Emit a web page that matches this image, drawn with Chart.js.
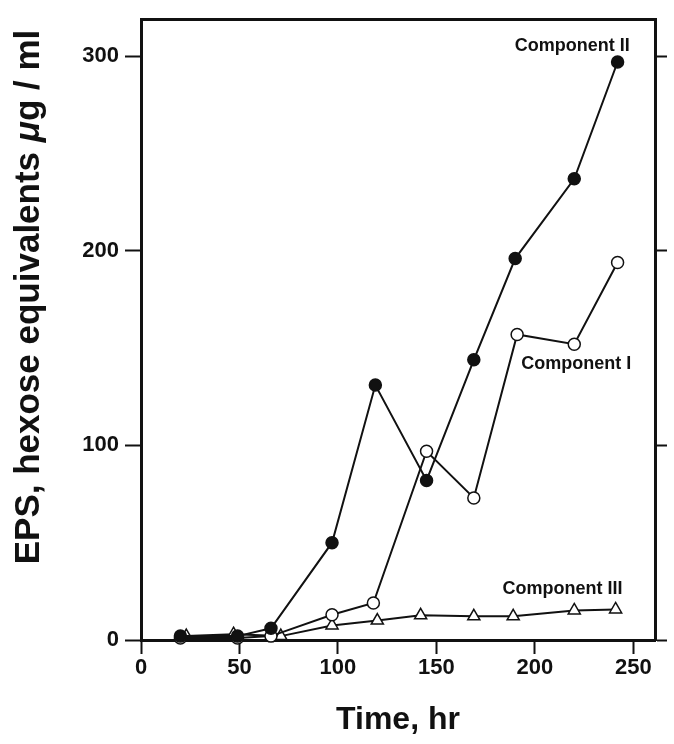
<!DOCTYPE html>
<html>
<head>
<meta charset="utf-8">
<script src="https://cdn.jsdelivr.net/npm/chart.js@4.4.1/dist/chart.umd.min.js"></script>
<style>
  html, body { margin: 0; padding: 0; background: #fff; }
</style>
</head>
<body>
<canvas id="chart" width="674" height="744"></canvas>
<script>
// time (hr) and EPS (hexose equivalents, ug/ml)
const compIIHours = [20, 49, 66, 97, 119, 145, 169, 190, 220, 242];
const compIIValues = [2, 2, 6, 50, 131, 82, 144, 196, 237, 297];

const compIHours = [20, 49, 66, 97, 118, 145, 169, 191, 220, 242];
const compIValues = [1, 1, 2, 13, 19, 97, 73, 157, 152, 194];

const compIIIHours = [23, 47, 71, 97, 120, 142, 169, 189, 220, 241];
const compIIIValues = [2, 3, 2, 7.5, 10, 12.7, 12.2, 12.2, 15.2, 15.7];

const xTicks = [0, 50, 100, 150, 200, 250];
const yTicks = [0, 100, 200, 300];

// series names, placed next to the curves (data units)
const seriesLabels = ["Component II", "Component I", "Component III"];
const labelX = [219, 221, 214];
const labelY = [305, 142, 26];

const FONT = "'Liberation Sans', Arial, Helvetica, sans-serif";

const toPoints = (xs, ys) => xs.map((x, i) => ({ x: x, y: ys[i] }));

const curveLabels = {
  id: "curveLabels",
  afterDatasetsDraw(chart) {
    const ctx = chart.ctx;
    const xs = chart.scales.x;
    const ys = chart.scales.y;
    ctx.save();
    ctx.fillStyle = "#111";
    ctx.font = "bold 18px " + FONT;
    ctx.textAlign = "center";
    ctx.textBaseline = "middle";
    seriesLabels.forEach((txt, i) => {
      ctx.fillText(txt, xs.getPixelForValue(labelX[i]), ys.getPixelForValue(labelY[i]));
    });
    ctx.restore();
  }
};

// y title drawn by hand so the mu can be italic like the original
const yTitle = {
  id: "yTitle",
  afterDraw(chart) {
    const ctx = chart.ctx;
    const parts = [
      ["EPS, hexose equivalents ", "bold 35px " + FONT],
      ["\u03bc", "italic bold 35px " + FONT],
      ["g / ml", "bold 35px " + FONT]
    ];
    let total = 0;
    parts.forEach(p => { ctx.font = p[1]; total += ctx.measureText(p[0]).width; });
    ctx.save();
    ctx.translate(29, 297);
    ctx.rotate(-Math.PI / 2);
    ctx.fillStyle = "#111";
    ctx.textBaseline = "middle";
    ctx.textAlign = "left";
    let x = -total / 2;
    parts.forEach(p => {
      ctx.font = p[1];
      ctx.fillText(p[0], x, 0);
      x += ctx.measureText(p[0]).width;
    });
    ctx.restore();
  }
};

const ctx = document.getElementById("chart").getContext("2d");

new Chart(ctx, {
  type: "line",
  data: {
    datasets: [
      {
        label: "Component II",
        data: toPoints(compIIHours, compIIValues),
        borderColor: "#111",
        borderWidth: 2,
        pointStyle: "circle",
        pointRadius: 6,
        pointBackgroundColor: "#111",
        pointBorderColor: "#111",
        pointBorderWidth: 1.5,
        order: 0
      },
      {
        label: "Component I",
        data: toPoints(compIHours, compIValues),
        borderColor: "#111",
        borderWidth: 2,
        pointStyle: "circle",
        pointRadius: 6,
        pointBackgroundColor: "#fff",
        pointBorderColor: "#111",
        pointBorderWidth: 1.5,
        order: 1
      },
      {
        label: "Component III",
        data: toPoints(compIIIHours, compIIIValues),
        borderColor: "#111",
        borderWidth: 2,
        pointStyle: "triangle",
        pointRadius: 7,
        pointBackgroundColor: "#fff",
        pointBorderColor: "#111",
        pointBorderWidth: 1.5,
        order: 2
      }
    ]
  },
  options: {
    responsive: false,
    animation: false,
    clip: false,
    layout: { padding: 0 },
    plugins: {
      legend: { display: false },
      tooltip: { enabled: false }
    },
    scales: {
      x: {
        type: "linear",
        position: "bottom",
        min: 0,
        max: 261,
        afterBuildTicks: (s) => { s.ticks = xTicks.map(v => ({ value: v })); },
        afterFit: (s) => { s.height = 104; },
        ticks: { color: "#111", font: { family: FONT, size: 22, weight: "bold" }, padding: 1, maxRotation: 0 },
        grid: { drawOnChartArea: false, tickLength: 14, tickWidth: 2, tickColor: "#111" },
        border: { color: "#111", width: 3 },
        title: {
          display: true,
          text: "Time, hr",
          color: "#111",
          font: { family: FONT, size: 32, weight: "bold" },
          padding: { top: 0, bottom: 5 }
        }
      },
      xTop: {
        type: "linear",
        position: "top",
        min: 0,
        max: 261,
        afterFit: (s) => { s.height = 12; },
        ticks: { display: false },
        grid: { drawOnChartArea: false, drawTicks: false },
        border: { color: "#111", width: 3 }
      },
      y: {
        type: "linear",
        position: "left",
        min: 0,
        max: 319,
        afterBuildTicks: (s) => { s.ticks = yTicks.map(v => ({ value: v })); },
        afterFit: (s) => { s.width = 141; },
        ticks: { color: "#111", font: { family: FONT, size: 22, weight: "bold" }, padding: 6 },
        grid: { drawOnChartArea: false, tickLength: 16, tickWidth: 2, tickColor: "#111" },
        border: { color: "#111", width: 3 }
      },
      yRight: {
        type: "linear",
        position: "right",
        min: 0,
        max: 319,
        afterBuildTicks: (s) => { s.ticks = yTicks.map(v => ({ value: v })); },
        afterFit: (s) => { s.width = 19; },
        ticks: { display: false },
        grid: { drawOnChartArea: false, tickLength: 12, tickWidth: 2, tickColor: "#111" },
        border: { color: "#111", width: 3 }
      }
    }
  },
  plugins: [curveLabels, yTitle]
});
</script>
</body>
</html>
